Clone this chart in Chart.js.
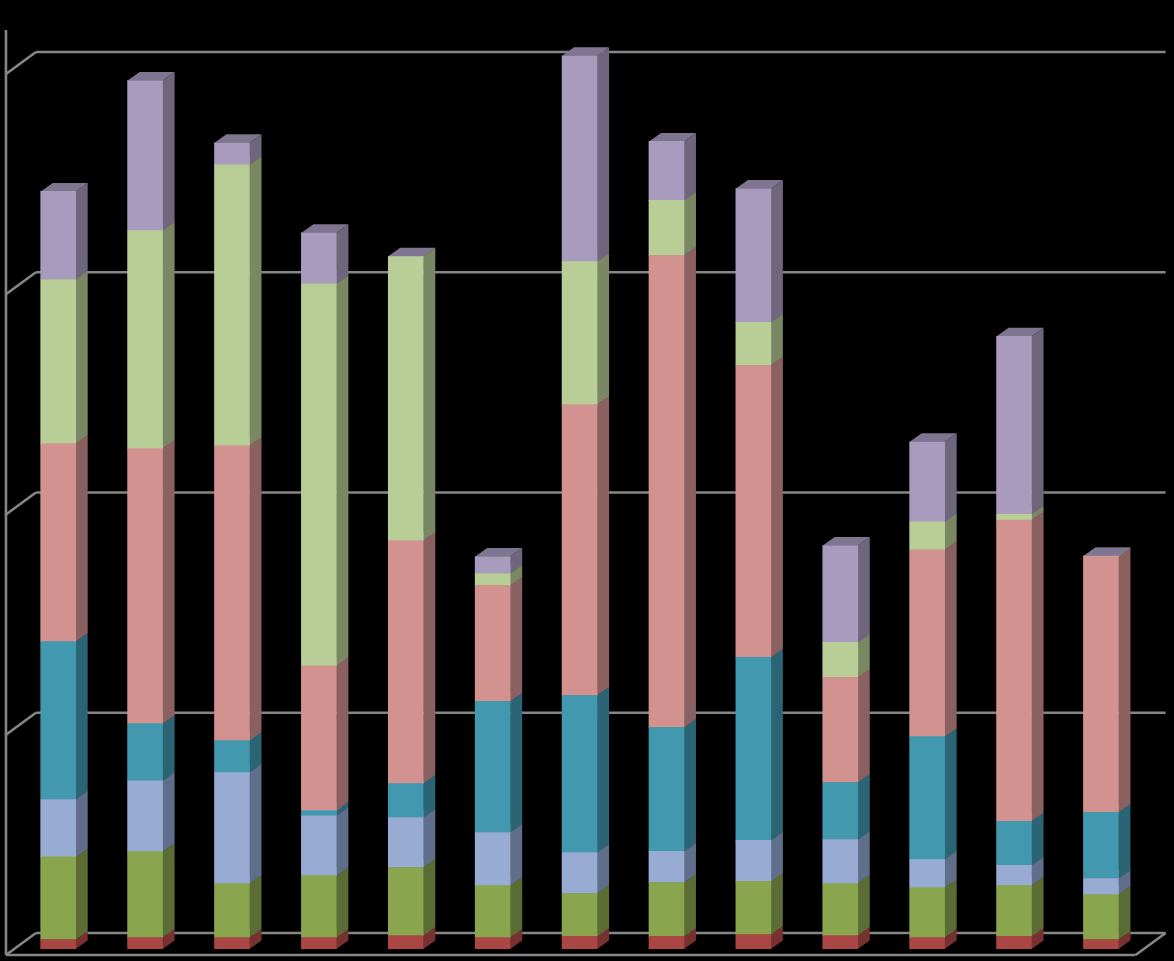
<!DOCTYPE html>
<html>
<head>
<meta charset="utf-8">
<title>Stacked 3D columns</title>
<script src="https://cdn.jsdelivr.net/npm/chart.js@4"></script>
<style>
  html, body { margin: 0; padding: 0; background: #000; overflow: hidden; }
  canvas { display: block; }
</style>
</head>
<body>
<canvas id="chart" width="1174" height="961"></canvas>
<script>
const categories = ['1', '2', '3', '4', '5', '6', '7', '8', '9', '10', '11', '12', '13'];

const seriesRed = [4.3, 5.2, 5.2, 5.2, 6.1, 5.2, 5.7, 5.7, 6.6, 6.1, 5.2, 5.7, 4.3];
const seriesGreen = [37.5, 39.0, 24.5, 28.1, 30.9, 23.6, 19.5, 24.5, 24.1, 23.6, 22.7, 23.2, 20.4];
const seriesBlue = [26.1, 32.2, 50.4, 27.2, 22.7, 24.1, 18.6, 14.1, 18.6, 20.0, 12.7, 9.1, 7.3];
const seriesTeal = [71.7, 25.9, 14.5, 2.3, 15.4, 59.5, 71.3, 56.3, 83.1, 25.9, 55.8, 20.0, 30.0];
const seriesPink = [89.9, 124.9, 133.9, 65.8, 110.3, 52.7, 132.1, 214.3, 132.6, 47.7, 84.9, 136.7, 116.2];
const seriesLime = [74.5, 99.0, 127.6, 173.4, 128.9, 5.4, 64.9, 25.0, 19.5, 15.9, 12.7, 2.7, 0.1];
const seriesPurple = [40.0, 68.1, 10.0, 23.2, 0.2, 7.7, 93.5, 26.8, 60.8, 44.0, 36.3, 80.8, 0.1];

const gridStep = 100;
const axisMax = 420;

const palette = [
    { data: seriesRed, front: '#aa4643', side: '#763130', top: '#86403e' },
    { data: seriesGreen, front: '#89a54e', side: '#5b6c35', top: '#6e8440' },
    { data: seriesBlue, front: '#98abd3', side: '#5f6e8a', top: '#7585a5' },
    { data: seriesTeal, front: '#4198af', side: '#2b6475', top: '#34798c' },
    { data: seriesPink, front: '#d29390', side: '#8a6060', top: '#a57573' },
    { data: seriesLime, front: '#b9cd96', side: '#798763', top: '#93a378' },
    { data: seriesPurple, front: '#a99bbd', side: '#6f667e', top: '#807591' }
];

// how far the bar's back sits from its front
const barDepth = { x: 12, y: 8.5 };
// floor corners measured from the plane of the bar fronts
const wallFront = { x: -8.8, y: 6 };
const wallBack = { x: 21.2, y: -16 };
const wallColor = '#868686';

function line(ctx, x1, y1, x2, y2) {
    ctx.beginPath();
    ctx.moveTo(x1, y1);
    ctx.lineTo(x2, y2);
    ctx.stroke();
}

function face(ctx, color, pts) {
    ctx.fillStyle = color;
    ctx.beginPath();
    ctx.moveTo(pts[0][0], pts[0][1]);
    for (let i = 1; i < pts.length; i++) ctx.lineTo(pts[i][0], pts[i][1]);
    ctx.closePath();
    ctx.fill();
}

const depthPlugin = {
    id: 'depth',
    beforeDatasetsDraw(chart) {
        const ctx = chart.ctx;
        const area = chart.chartArea;
        const y = chart.scales.y;

        ctx.save();
        ctx.strokeStyle = wallColor;
        ctx.lineWidth = 2.6;

        // back wall lines and the short slants on the left wall
        y.ticks.forEach(tick => {
            const py = y.getPixelForValue(tick.value);
            line(ctx, area.left + wallBack.x, py + wallBack.y, area.right + wallBack.x, py + wallBack.y);
            line(ctx, area.left + wallFront.x, py + wallFront.y, area.left + wallBack.x, py + wallBack.y);
        });

        // floor and left axis
        const floor = y.getPixelForValue(0);
        line(ctx, area.left + wallFront.x, floor + wallFront.y, area.right + wallFront.x, floor + wallFront.y);
        line(ctx, area.right + wallFront.x, floor + wallFront.y, area.right + wallBack.x, floor + wallBack.y);
        line(ctx, area.left + wallFront.x, area.top + wallFront.y, area.left + wallFront.x, floor + wallFront.y);

        // side and top of each segment, bottom up so the fronts cover them
        chart.data.datasets.forEach((ds, d) => {
            chart.getDatasetMeta(d).data.forEach(bar => {
                const left = bar.x - bar.width / 2;
                const right = bar.x + bar.width / 2;
                const dx = barDepth.x;
                const dy = barDepth.y;
                face(ctx, palette[d].side, [[right, bar.y], [right + dx, bar.y - dy], [right + dx, bar.base - dy], [right, bar.base]]);
                face(ctx, palette[d].top, [[left, bar.y], [left + dx, bar.y - dy], [right + dx, bar.y - dy], [right, bar.y]]);
            });
        });
        ctx.restore();
    }
};

new Chart(document.getElementById('chart').getContext('2d'), {
    type: 'bar',
    data: {
        labels: categories,
        datasets: palette.map(s => ({
            data: s.data,
            backgroundColor: s.front,
            borderWidth: 0,
            barThickness: 35
        }))
    },
    plugins: [depthPlugin],
    options: {
        responsive: false,
        animation: false,
        layout: { padding: { left: 14.75, right: 29.6, top: 24, bottom: 12 } },
        plugins: { legend: { display: false }, tooltip: { enabled: false } },
        scales: {
            x: { stacked: true, display: false, grid: { display: false } },
            y: {
                stacked: true,
                display: false,
                min: 0,
                max: axisMax,
                ticks: { stepSize: gridStep, includeBounds: false },
                grid: { display: false }
            }
        }
    }
});
</script>
</body>
</html>
